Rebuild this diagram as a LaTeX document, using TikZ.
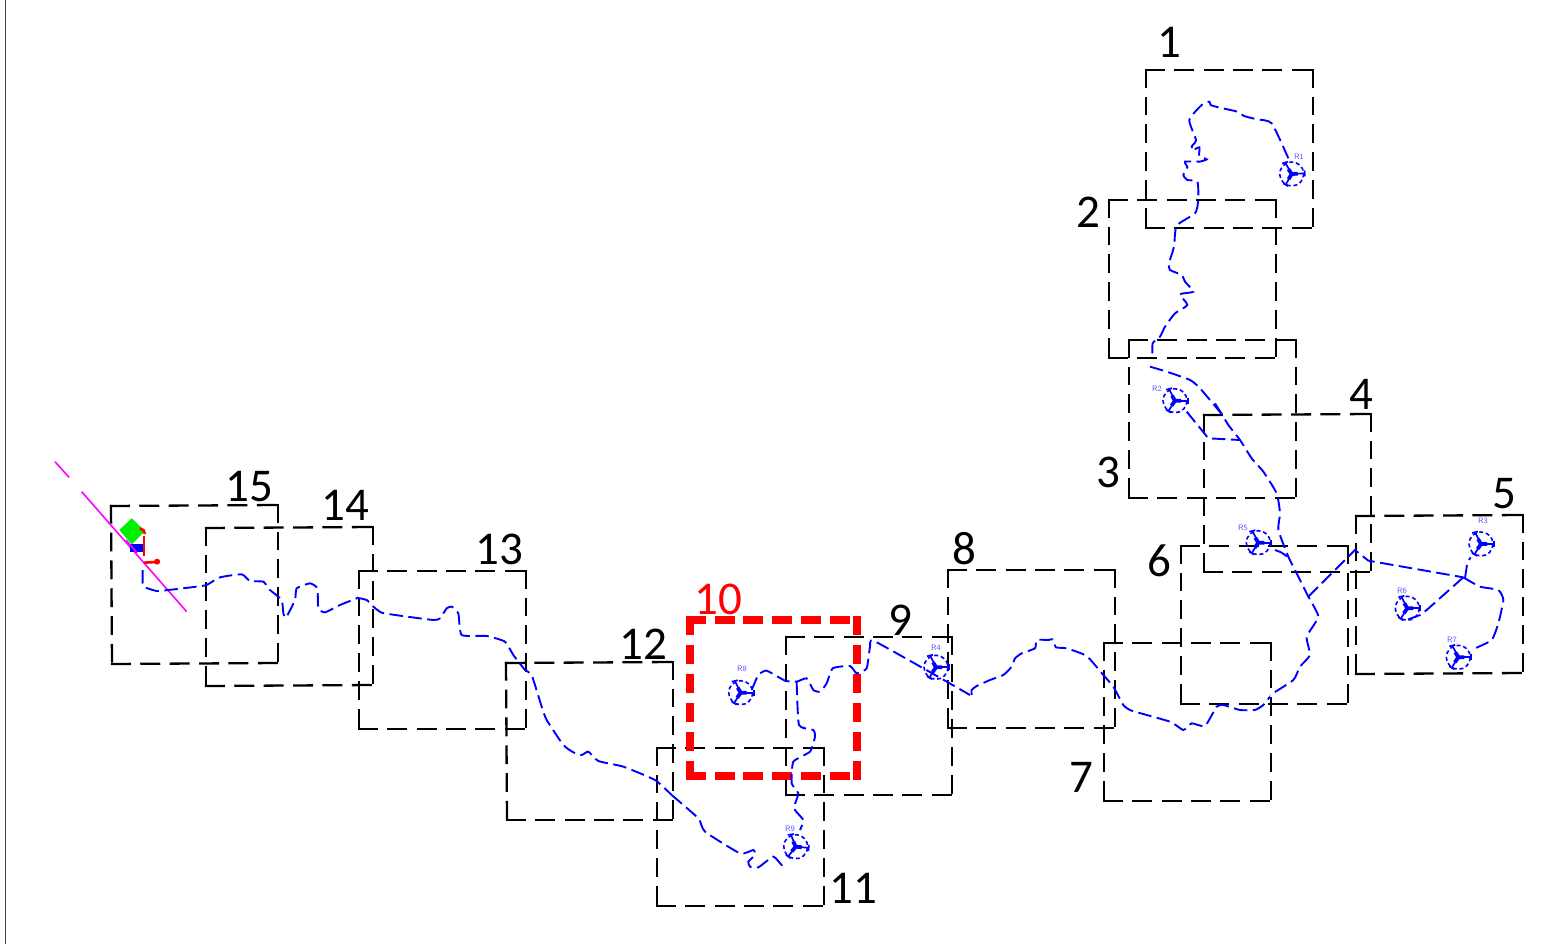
\documentclass[tikz,border=0pt]{standalone}
\usepackage{fontspec}
\setmainfont{Carlito}
\tikzset{
  hside/.style={draw=black,line width=2.3pt,line cap=rect,dash pattern=on 17.7pt off 11.7pt},
  vside/.style={draw=black,line width=2.3pt,line cap=rect,dash pattern=on 16.5pt off 11.3pt},
  hred/.style={draw=red,line width=8.5pt,line cap=rect,dash pattern=on 11.5pt off 17.3pt},
  vred/.style={draw=red,line width=8.5pt,line cap=rect,dash pattern=on 10.5pt off 18.5pt},
  route/.style={draw=blue,line width=1.9pt,dash pattern=on 13.5pt off 5.5pt},
  blade/.style={draw=blue,line width=1.7pt},
  hub/.style={draw=blue,line width=3.8pt},
  rotor/.style={draw=blue,line width=1.6pt,dash pattern=on 4pt off 2.8pt},
  rlabel/.style={text=blue!65,font=\fontsize{8}{8}\selectfont\sffamily,inner sep=0pt},
  numlabel/.style={font=\fontsize{47}{47}\selectfont,inner sep=0pt,text=black},
}
\newcommand{\gridbox}[8]{%
  \draw[hside] (#1,#2) -- (#3,#4);
  \draw[vside] (#3,#4) -- (#5,#6);
  \draw[hside] (#7,#8) -- (#5,#6);
  \draw[vside] (#1,#2) -- (#7,#8);
}
\newcommand{\turbine}[6]{%
  \begin{scope}[shift={(#1,#2)},rotate=#3]
    \draw[rotor] (0,0) circle (12);
    \draw[blade] (0,0) -- (13,0) (13,-3) -- (13,3);
    \draw[blade] (0,0) -- (-6,-12) (-9,-11) -- (-3,-12.5);
    \draw[blade] (0,0) -- (-7,11) (-9,9) -- (-4,12);
    \draw[hub] (-3,-5) -- (0,0) -- (6,0) (0,0) -- (-3.5,5);
  \end{scope}
  \node[rlabel] (#4) at (#5,#6) {#4};
}
\begin{document}
\begin{tikzpicture}[x=1pt,y=-1pt]
\useasboundingbox (0,0) rectangle (1558,944);
\fill[white] (0,0) rectangle (1558,944);
\draw[black!75,line width=1.2pt] (5.8,0) -- (5.8,944);

% grid boxes
\gridbox{1146}{70}{1313}{70}{1313}{228}{1146}{228}
\gridbox{1109}{200}{1276}{200}{1276}{358}{1109}{358}
\gridbox{1129}{340}{1296}{340}{1296}{498}{1129}{498}
\gridbox{1204}{415}{1371}{414}{1371}{572}{1204}{572}
\gridbox{1356}{516}{1523}{515}{1523}{673}{1356}{674}
\gridbox{1181}{546}{1348}{546}{1348}{704}{1181}{704}
\gridbox{1104}{643}{1271}{643}{1271}{801}{1104}{801}
\gridbox{948}{570}{1115}{570}{1115}{728}{948}{728}
\gridbox{786}{637}{952}{637}{952}{795}{786}{795}
\gridbox{657}{748}{824}{748}{824}{906}{657}{906}
\gridbox{506}{663}{673}{662}{673}{820}{507}{820}
\gridbox{359}{571}{526}{571}{526}{729}{359}{729}
\gridbox{206}{528}{373}{527}{373}{685}{206}{686}
\gridbox{111}{506}{278}{505}{278}{663}{112}{664}

% red sheet
\draw[hred] (690,620) -- (857,620);
\draw[vred] (857,620) -- (857,776);
\draw[hred] (690,776) -- (857,776);
\draw[vred] (690,620) -- (690,776);

% site at the left end
\definecolor{linemag}{RGB}{255,0,255}
\definecolor{sitegreen}{RGB}{0,240,0}
\draw[linemag,line width=1.6pt] (55,461.7) -- (69,477.3) (81.7,491.7) -- (186.7,611.7);
\fill[sitegreen] (131.7,518.3) -- (145,531) -- (131.7,544.3) -- (119.3,530) -- cycle;
\fill[blue] (130,544.3) rectangle (143.3,551.7);
\draw[linemag,line width=1.6pt] (126,540) -- (137,553);
\draw[red,line width=2.6pt] (140,528.3) .. controls (143,529) and (145,531) .. (145,534);
\draw[red,line width=2.6pt] (144,536) -- (144,556);
\draw[red,line width=2.6pt] (144,562.7) -- (160,561.7);
\fill[red] (157,561.7) circle (3);

% routes (traced in zoomed-view coordinates)
\begin{scope}[shift={(1100,60)},scale=1/3]
  \draw[route] plot[smooth,tension=0.35] coordinates {(565,295) (515,190) (470,178) (432,168) (412,155) (355,142) (332,135) (328,125) (305,135) (268,180) (288,240) (276,258) (276,272) (298,262) (298,288) (320,298) (298,305) (255,305) (262,322) (250,345) (262,360) (292,365) (295,420) (285,460) (230,497) (222,560) (207,610) (210,630) (245,645) (255,665) (280,695) (240,703) (262,735) (225,760) (195,800) (180,830) (158,850) (158,895)};
  \draw[route] plot[smooth,tension=0.35] coordinates {(150,920) (200,935) (270,960) (300,985) (365,1062)};
\end{scope}
\begin{scope}[shift={(1130,400)},scale=1/3]
  \draw[route] plot[smooth,tension=0.3] coordinates {(255,10) (275,42) (295,75) (330,120) (365,175) (400,215) (440,280) (450,340) (445,390) (475,470) (500,520) (535,590) (565,650) (530,710) (540,765) (510,800) (490,840) (420,885)};
  \draw[route] (170,35) -- (235,115) -- (330,120);
  \draw[route] plot[smooth,tension=0.3] coordinates {(435,450) (455,458) (478,475)};
  \draw[route] (535,590) -- (675,450) -- (715,482) -- (1000,532);
  \draw[route] plot[smooth,tension=0.3] coordinates {(1005,535) (1012,490) (1022,472)};
  \draw[route] (1000,532) -- (890,630) -- (870,645) -- (835,658);
  \draw[route] plot[smooth,tension=0.3] coordinates {(1000,532) (1050,560) (1105,570) (1120,600) (1105,670) (1085,720) (1035,745)};
\end{scope}
\begin{scope}[shift={(650,610)},scale=1/3]
  \draw[route] plot[smooth,tension=0.3] coordinates {(305,240) (325,195) (350,182) (405,212) (440,215) (470,205) (490,240) (510,245) (530,220) (548,175) (600,168) (620,190) (650,175) (660,110) (670,92) (820,175) (960,255)};
  \draw[route] plot[smooth,tension=0.3] coordinates {(440,215) (447,345) (490,360) (495,380) (480,425) (430,455) (425,520) (445,550) (432,595) (460,630) (450,660)};
  \draw[route] plot[smooth,tension=0.3] coordinates {(65,555) (145,625) (165,665) (270,730) (310,720) (315,735) (295,755) (300,770) (325,772) (370,740) (395,765) (405,755)};
\end{scope}
\begin{scope}[shift={(940,550)},scale=1/3]
  \draw[route] plot[smooth,tension=0.3] coordinates {(95,435) (95,420) (110,408) (150,390) (190,375) (215,350) (225,325) (245,310) (285,295) (290,270) (325,270) (338,268) (348,292) (380,295) (440,318) (490,375) (520,410) (550,465) (575,482) (690,515) (730,540) (755,520) (795,528) (830,470) (850,465) (900,480) (945,480) (970,465) (990,440)};
\end{scope}
\begin{scope}[shift={(40,450)},scale=1/3]
  \draw[route] plot[smooth,tension=0.3] coordinates {(308,360) (308,400) (315,412) (350,423) (385,420) (470,410) (500,405) (540,382) (605,373) (630,393) (670,395) (690,420) (725,450) (730,490) (738,503) (765,450) (770,415) (810,400) (832,415) (835,475) (855,487) (900,465) (955,443)};
\end{scope}
\begin{scope}[shift={(350,560)},scale=1/3]
  \draw[route] plot[smooth,tension=0.3] coordinates {(20,113) (50,120) (70,140) (95,158) (150,167) (250,180) (270,175) (290,145) (305,140) (325,160) (335,225) (410,228) (465,245) (490,285) (525,330) (545,345) (575,440) (590,480) (640,555) (670,577) (695,585) (715,575) (745,603) (820,620) (915,660) (965,705)};
\end{scope}

% turbines
\turbine{1291.7}{174}{3}{R1}{1299}{157}
\turbine{1175}{400.7}{0}{R2}{1157}{389}
\turbine{1481}{544}{0}{R3}{1483}{521}
\turbine{936}{667.3}{0}{R4}{936}{648}
\turbine{1258.3}{542.7}{0}{R5}{1243}{528}
\turbine{1407.3}{608.3}{0}{R6}{1402}{591}
\turbine{1458.3}{657.3}{0}{R7}{1452}{640}
\turbine{740.7}{692.7}{0}{R8}{742}{669}
\turbine{795.7}{846.7}{-5}{R9}{790}{829}

% sheet numbers
\node[numlabel] (n1) at (1169,42) {1};
\node[numlabel] (n2) at (1088,212) {2};
\node[numlabel] (n3) at (1108,472) {3};
\node[numlabel] (n4) at (1361,394) {4};
\node[numlabel] (n5) at (1504,494) {5};
\node[numlabel] (n6) at (1159,561) {6};
\node[numlabel] (n7) at (1081,777) {7};
\node[numlabel] (n8) at (964,549) {8};
\node[numlabel] (n9) at (900,620) {9};
\node[numlabel,text=red] (n10) at (718,599) {10};
\node[numlabel] (n11) at (853,888) {11};
\node[numlabel] (n12) at (643,644) {12};
\node[numlabel] (n13) at (499,549) {13};
\node[numlabel] (n14) at (345,505) {14};
\node[numlabel] (n15) at (249,487) {15};
\end{tikzpicture}
\end{document}
